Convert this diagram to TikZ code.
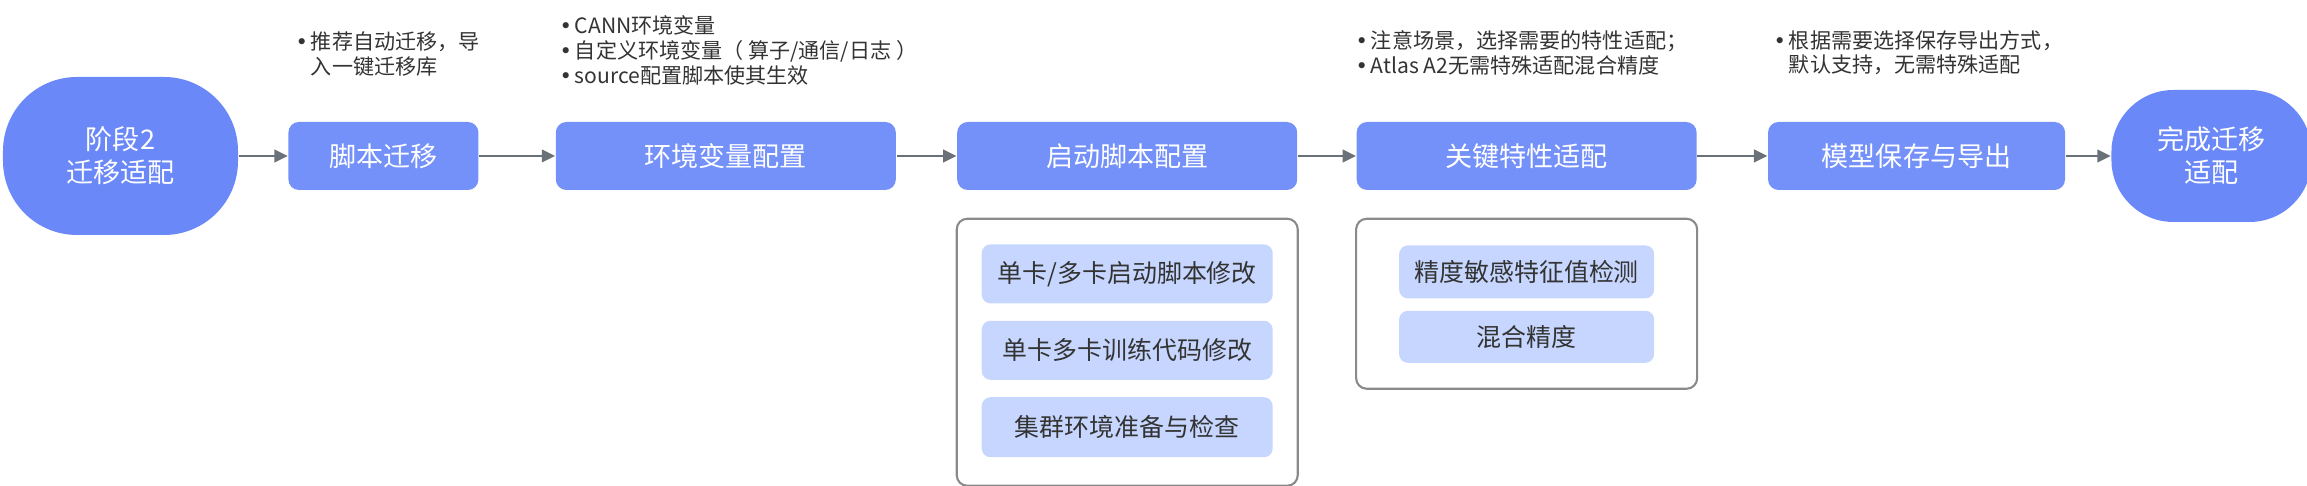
\documentclass[tikz,border=0pt]{standalone}
\usepackage{fontspec}
\setmainfont{Noto Sans CJK SC}
\newfontfamily\bulletfont{DejaVu Sans}
\newcommand{\itembullet}{{\bulletfont •}\hspace{0.8pt}}
\usetikzlibrary{arrows.meta, positioning}
\definecolor{stageblue}{HTML}{7490F9}
\definecolor{termblue}{HTML}{6A88F7}
\definecolor{subblue}{HTML}{C6D6FE}
\definecolor{arrgray}{HTML}{6B7178}
\definecolor{framegray}{HTML}{8A8A8A}
\definecolor{textgray}{HTML}{333333}

\begin{document}
\begin{tikzpicture}[
      stagebox/.style={fill=stageblue, rounded corners=3pt,
                  minimum width=3.4cm, minimum height=0.68cm, inner sep=0pt,
                  text=white, font=\fontsize{7.7}{9.4}\selectfont},
      terminal/.style={fill=termblue, inner sep=0pt, align=center,
                  text=white, font=\fontsize{7.7}{9.4}\selectfont},
      group/.style={draw=framegray, line width=0.6pt, rounded corners=3pt,
                  minimum width=3.41cm, inner sep=0pt},
      subbox/.style={fill=subblue, rounded corners=2.5pt, inner sep=0pt,
                  text=textgray, font=\fontsize{7.1}{8.5}\selectfont},
      note/.style={anchor=north west, align=left, inner sep=0pt,
                  text=textgray, font=\fontsize{6.0}{7.1}\selectfont},
      arr/.style={-{Triangle[length=3.8pt, width=3.6pt]}, arrgray, line width=0.6pt},
    ]
    \useasboundingbox (0,0) rectangle (23.07,-4.86);

    % ── Main row: migration stages ──
    \node[terminal, rounded corners=0.74cm, minimum width=2.35cm, minimum height=1.58cm]
          (start) at (1.205,-1.56) {阶段2\\迁移适配};
    \node[stagebox, right=0.49cm of start, minimum width=1.9cm]
          (script) {脚本迁移};
    \node[stagebox, right=0.76cm of script]
          (env) {环境变量配置};
    \node[stagebox, right=0.60cm of env]
          (launch) {启动脚本配置};
    \node[stagebox, right=0.58cm of launch]
          (feature) {关键特性适配};
    \node[stagebox, right=0.70cm of feature, minimum width=2.97cm]
          (save) {模型保存与导出};
    \node[terminal, rounded corners=0.62cm, right=0.45cm of save,
          minimum width=2.0cm, minimum height=1.32cm]
          (done) {完成迁移\\适配};

    \draw[arr] (start)   -- (script);
    \draw[arr] (script)  -- (env);
    \draw[arr] (env)     -- (launch);
    \draw[arr] (launch)  -- (feature);
    \draw[arr] (feature) -- (save);
    \draw[arr] (save)    -- (done);

    % ── Notes above the stages ──
    \node[note] (scriptnote) at (2.95,-0.315)
          {\itembullet 推荐自动迁移，导\\\phantom{\itembullet}入一键迁移库};
    \node[note] (envnote) at (5.59,-0.145)
          {\itembullet CANN环境变量\\\itembullet 自定义环境变量（ 算子/通信/日志 ）\\\itembullet source配置脚本使其生效};
    \node[note] (featurenote) at (13.55,-0.295)
          {\itembullet 注意场景，选择需要的特性适配；\\\itembullet Atlas A2无需特殊适配混合精度};
    \node[note] (savenote) at (17.73,-0.295)
          {\itembullet 根据需要选择保存导出方式，\\\phantom{\itembullet}默认支持，无需特殊适配};

    % ── Details below launch / feature stages ──
    \node[group, below=0.27cm of launch, minimum height=2.67cm]
          (launchgrp) {};
    \node[subbox, below=0.26cm of launchgrp.north, minimum width=2.91cm, minimum height=0.59cm]
          (single) {单卡/多卡启动脚本修改};
    \node[subbox, below=0.16cm of single, minimum width=2.91cm, minimum height=0.59cm]
          (train) {单卡多卡训练代码修改};
    \node[subbox, below=0.16cm of train, minimum width=2.91cm, minimum height=0.60cm]
          (cluster) {集群环境准备与检查};

    \node[group, below=0.27cm of feature, minimum height=1.70cm]
          (featuregrp) {};
    \node[subbox, below=0.27cm of featuregrp.north, minimum width=2.55cm, minimum height=0.53cm]
          (detect) {精度敏感特征值检测};
    \node[subbox, below=0.11cm of detect, minimum width=2.55cm, minimum height=0.52cm]
          (mixed) {混合精度};
  \end{tikzpicture}
\end{document}
